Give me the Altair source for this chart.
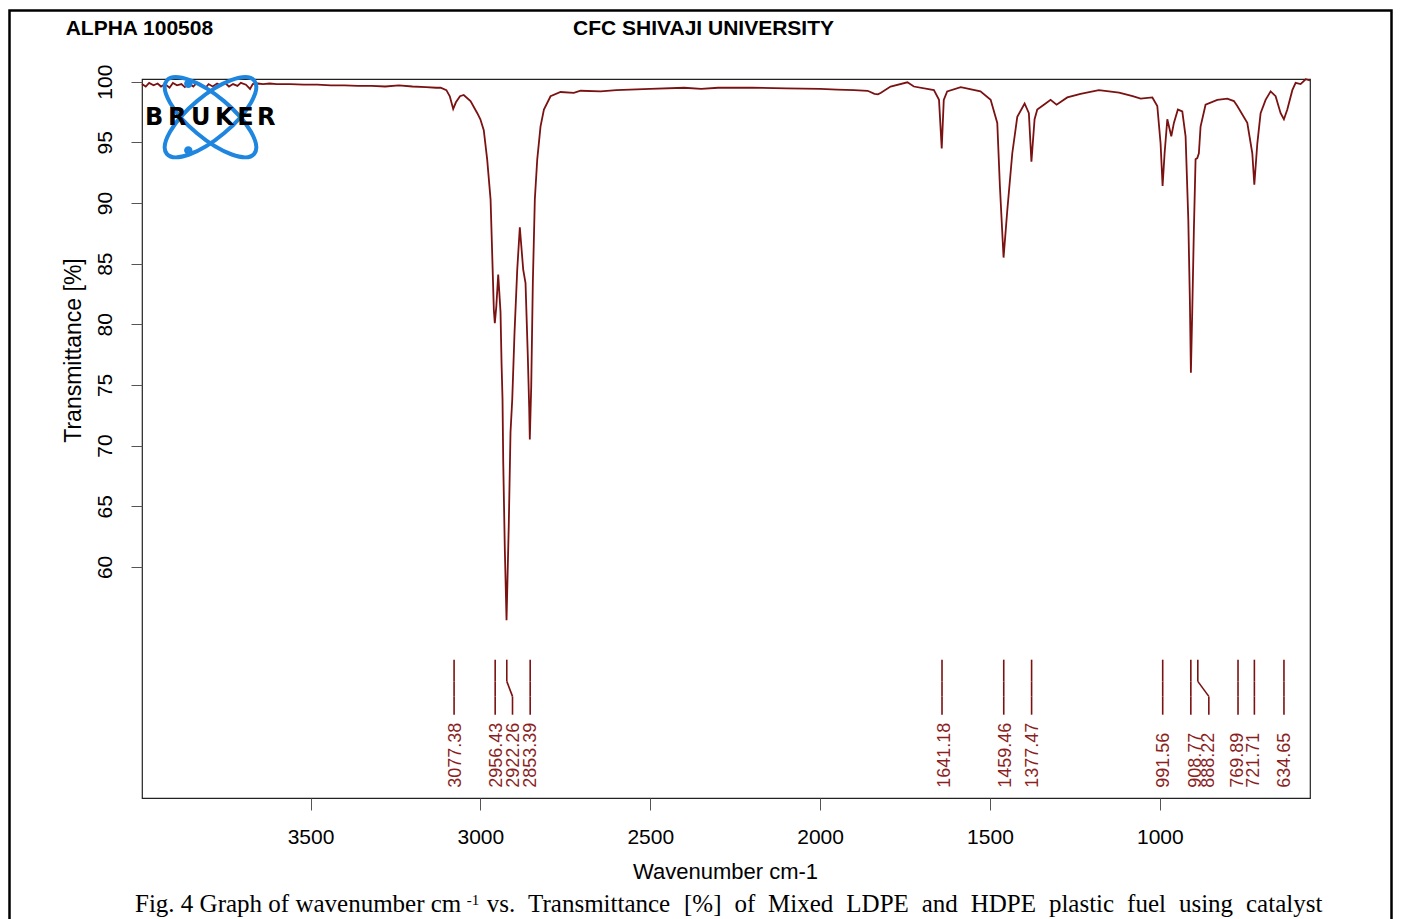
import altair as alt
import pandas as pd

# ---------------- data ----------------
wavenumber = [
    3996, 3985, 3975, 3962, 3950, 3940, 3928, 3915, 3905, 3893, 3880, 3870, 3858, 3845,
    3835, 3822, 3810, 3800, 3788, 3775, 3765, 3752, 3740, 3728, 3715, 3705, 3690, 3678,
    3670, 3655, 3640, 3620, 3600, 3560, 3520, 3480, 3440, 3400, 3360, 3320, 3280, 3240,
    3200, 3160, 3130, 3117, 3100, 3090, 3080, 3072, 3060, 3049, 3029, 3009, 3000, 2990,
    2980, 2970, 2965, 2960.4, 2957.5, 2953, 2947.5, 2940.7, 2937.7, 2934.8, 2932.7, 2928,
    2923, 2916.3, 2911.3, 2906.2, 2899.5, 2891.5, 2883.9, 2873.9, 2867.1, 2860.3, 2856.2,
    2854.5, 2850.3, 2845.6, 2839.7, 2832.6, 2823, 2813, 2793.5, 2764, 2725, 2705, 2646,
    2600, 2500, 2400, 2350, 2300, 2200, 2100, 2000, 1950, 1900, 1860, 1840, 1830, 1822,
    1792.6, 1743, 1724, 1665, 1650, 1642, 1636, 1626, 1586, 1528, 1498, 1478.5, 1470.8,
    1460, 1449, 1434.3, 1419.6, 1398, 1385.5, 1378, 1368.7, 1360.8, 1336.3, 1321.6,
    1303.9, 1272.4, 1233.3, 1179.4, 1120, 1080, 1056.6, 1022, 1007.5, 997.8, 991.9, 986,
    978, 966.3, 958.6, 946.9, 933.9, 924.2, 916.2, 911.5, 908.6, 904.5, 899.8, 894.8,
    889.8, 885.1, 880.1, 865.4, 830.9, 801.5, 782, 772, 742.6, 727.8, 721.9, 713.1, 703.4,
    688.7, 673.9, 659.2, 644.5, 634.8, 624.8, 610, 600.3, 585.6, 570.9, 558,
]
transmittance = [
    99.8, 99.6, 99.9, 99.7, 99.85, 99.6, 99.8, 99.5, 99.9, 99.7, 99.8, 99.55, 99.85, 99.6,
    99.9, 99.7, 99.45, 99.8, 99.6, 99.85, 99.7, 99.9, 99.6, 99.8, 99.65, 99.9, 99.75, 99.4,
    99.8, 99.85, 99.8, 99.85, 99.8, 99.8, 99.75, 99.75, 99.7, 99.7, 99.65, 99.65, 99.6, 99.7,
    99.6, 99.55, 99.5, 99.5, 99.3, 98.8, 97.75, 98.3, 98.8, 98.9, 98.4, 97.4, 96.9, 96.0,
    93.6, 90.3, 85.6, 81.2, 80.1, 81.5, 84.1, 81.0, 76.8, 73.8, 68.6, 61.4,
    55.6, 63.6, 71.1, 73.8, 79.3, 84.5, 88.0, 84.5, 83.4, 77.3, 73.0,
    70.5, 74.9, 83.4, 90.3, 93.6, 96.3, 97.7, 98.8, 99.15, 99.07, 99.25, 99.2,
    99.3, 99.4, 99.5, 99.4, 99.5, 99.5, 99.45, 99.4, 99.35, 99.3, 99.25, 99.0, 98.95, 99.07,
    99.6, 99.95, 99.6, 99.3, 98.5, 94.5, 98.5, 99.2, 99.55, 99.2, 98.5, 96.6, 91.4,
    85.5, 89.4, 94.1, 97.1, 98.2, 97.4, 93.4, 96.9, 97.7, 98.2, 98.5,
    98.1, 98.7, 99.0, 99.3, 99.1, 98.8, 98.6, 98.7, 98.0, 94.9, 91.4, 94.1,
    96.9, 95.5, 96.6, 97.7, 97.55, 95.5, 88.6, 81.8, 76.0, 81.2, 87.8, 93.6,
    93.7, 94.1, 96.3, 98.1, 98.5, 98.6, 98.4, 98.0, 96.6, 94.1, 91.5, 94.9, 97.4,
    98.5, 99.2, 98.8, 97.4, 96.9, 97.7, 99.3, 99.9, 99.8, 100.2, 100.1,
]

peak_wn = [3077.38, 2956.43, 2922.26, 2853.39, 1641.18, 1459.46, 1377.47,
           991.56, 908.77, 888.22, 769.89, 721.71, 634.65]
# where each marker line ends (bent lines for crowded peaks)
peak_line_end = [3077.38, 2956.43, 2905.4, 2853.39, 1641.18, 1459.46, 1377.47,
                 991.56, 908.77, 855.8, 769.89, 721.71, 634.65]
# where each vertical label sits
peak_text_pos = [3073, 2950.4, 2901.5, 2852.4, 1633.6, 1454.1, 1372.5,
                 987.7, 894.8, 855.6, 770.2, 723.1, 632.8]
peak_labels = [f"{p:.2f}" for p in peak_wn]

x_ticks = [3500, 3000, 2500, 2000, 1500, 1000]
y_ticks = [60, 65, 70, 75, 80, 85, 90, 95, 100]

caption_words = ["vs.", "Transmittance", "[%]", "of", "Mixed", "LDPE", "and",
                 "HDPE", "plastic", "fuel", "using", "catalyst"]
caption_word_x = [344.7, 386.1, 542.0, 592.4, 626.1, 704.3, 779.7,
                  828.7, 906.9, 985.1, 1036.9, 1104.0]

# ---------------- styling ----------------
LINE = "#7a1212"
LABEL = "#8b1f1f"
SANS = "Liberation Sans"
SERIF = "Liberation Serif"
W, H = 1168, 719
PAD_L, PAD_T, PAD_R, PAD_B = 134, 71, 83, 121

x_scale = alt.Scale(domain=[3996, 558], nice=False, zero=False)
y_scale = alt.Scale(domain=[40.95, 100.22], nice=False, zero=False)

x_axis = alt.Axis(values=x_ticks, format="d", grid=False, domain=False,
                  tickSize=12, tickColor="#555555", tickWidth=1,
                  labelFont=SANS, labelFontSize=21, labelColor="black",
                  labelPadding=16, labelFlush=False, labelOverlap=False,
                  titleFont=SANS, titleFontSize=22, titleFontWeight="normal",
                  titleColor="black", titleX=583, titleY=73,
                  titleAlign="center", titleBaseline="middle")
y_axis = alt.Axis(values=y_ticks, format="d", grid=False, domain=False,
                  tickSize=11, tickColor="#555555", tickWidth=1,
                  labelFont=SANS, labelFontSize=21, labelColor="black",
                  labelAngle=270, labelAlign="center", labelBaseline="bottom",
                  labelPadding=16, labelFlush=False, labelOverlap=False,
                  titleFont=SANS, titleFontSize=23, titleFontWeight="normal",
                  titleColor="black", titleAngle=270, titleX=-69, titleY=271,
                  titleAlign="center", titleBaseline="middle")

X_TITLE = "Wavenumber cm-1"
Y_TITLE = "Transmittance [%]"


def xenc(field):
    return alt.X(f"{field}:Q", scale=x_scale, axis=x_axis, title=X_TITLE)


spec = pd.DataFrame({"wn": wavenumber, "T": transmittance,
                     "i": list(range(len(wavenumber)))})
peaks = pd.DataFrame({"top": peak_wn, "end": peak_line_end,
                      "pos": peak_text_pos, "label": peak_labels})
words = pd.DataFrame({"w": caption_words, "px": caption_word_x})
one = pd.DataFrame({"k": [0]})

spectrum = alt.Chart(spec).mark_line(color=LINE, strokeWidth=1.8).encode(
    x=xenc("wn"),
    y=alt.Y("T:Q", scale=y_scale, axis=y_axis, title=Y_TITLE),
    order="i:Q",
)

# peak marker lines: straight top, optional bend, straight bottom
Y_TOP, Y_B1, Y_B2, Y_BOT = 580.7, 602.4, 617.4, 635.7
seg1 = alt.Chart(peaks).mark_rule(color=LINE, strokeWidth=1.6).encode(
    x=xenc("top"), x2="top:Q", y=alt.value(Y_TOP), y2=alt.value(Y_B1))
seg2 = alt.Chart(peaks).mark_rule(color=LINE, strokeWidth=1.6).encode(
    x=xenc("top"), x2="end:Q", y=alt.value(Y_B1), y2=alt.value(Y_B2))
seg3 = alt.Chart(peaks).mark_rule(color=LINE, strokeWidth=1.6).encode(
    x=xenc("end"), x2="end:Q", y=alt.value(Y_B2), y2=alt.value(Y_BOT))
peak_text = alt.Chart(peaks).mark_text(
    angle=270, align="left", baseline="middle", font=SANS, fontSize=18,
    color=LABEL).encode(x=xenc("pos"), y=alt.value(708.7), text="label:N")

# header texts
hdr_left = alt.Chart(one).mark_text(
    text="ALPHA 100508", font=SANS, fontSize=21, fontWeight="bold",
    align="left", baseline="alphabetic", color="black").encode(
    x=alt.value(-76.3), y=alt.value(-43.6))
hdr_mid = alt.Chart(one).mark_text(
    text="CFC SHIVAJI UNIVERSITY", font=SANS, fontSize=21, fontWeight="bold",
    align="center", baseline="alphabetic", color="black").encode(
    x=alt.value(561.5), y=alt.value(-43.6))

# Bruker logo (decoration)
ELL_A = "M 0.728 0.611 A 0.95 0.35 40 1 0 -0.728 -0.611 A 0.95 0.35 40 1 0 0.728 0.611 Z"
ELL_B = "M 0.728 -0.611 A 0.95 0.35 -40 1 0 -0.728 0.611 A 0.95 0.35 -40 1 0 0.728 -0.611 Z"
logo_blue = "#1f86e0"
ell1 = alt.Chart(one).mark_point(shape=ELL_A, size=14400, filled=False,
                                 stroke=logo_blue, strokeWidth=4, opacity=1).encode(
    x=alt.value(68.5), y=alt.value(38.2))
ell2 = alt.Chart(one).mark_point(shape=ELL_B, size=14400, filled=False,
                                 stroke=logo_blue, strokeWidth=4, opacity=1).encode(
    x=alt.value(68.5), y=alt.value(38.2))
dot1 = alt.Chart(one).mark_point(shape="circle", size=70, filled=True,
                                 color=logo_blue, opacity=1).encode(
    x=alt.value(46.3), y=alt.value(4.7))
dot2 = alt.Chart(one).mark_point(shape="circle", size=70, filled=True,
                                 color=logo_blue, opacity=1).encode(
    x=alt.value(46.3), y=alt.value(71.4))
logo_letters = ["B", "R", "U", "K", "E", "R"]
logo_x = [12.2, 35.2, 58.8, 82.2, 103.5, 124.3]
logo_text = [alt.Chart(one).mark_text(
    text=ch, font="DejaVu Sans", fontSize=24, fontWeight="bold",
    align="center", baseline="alphabetic", color="black").encode(
    x=alt.value(px), y=alt.value(46)) for ch, px in zip(logo_letters, logo_x)]

# outer frame of the figure
frame = alt.Chart(one).mark_rect(fillOpacity=0, stroke="black", strokeWidth=2.5).encode(
    x=alt.value(-132.5), x2=alt.value(1249.5), y=alt.value(-68.6), y2=alt.value(900))

# caption
cap1 = alt.Chart(one).mark_text(
    text="Fig. 4 Graph of wavenumber cm", font=SERIF, fontSize=25,
    align="left", baseline="alphabetic", color="black").encode(
    x=alt.value(-7), y=alt.value(833))
cap_sup = alt.Chart(one).mark_text(
    text="-1", font=SERIF, fontSize=15,
    align="left", baseline="alphabetic", color="black").encode(
    x=alt.value(324.7), y=alt.value(825.5))
cap2 = alt.Chart(words).mark_text(
    font=SERIF, fontSize=25, align="left", baseline="alphabetic",
    color="black").encode(
    x=alt.X("px:Q", scale=None), y=alt.value(833), text="w:N")

chart = alt.layer(
    frame, spectrum, seg1, seg2, seg3, peak_text, hdr_left, hdr_mid,
    ell1, ell2, dot1, dot2, *logo_text, cap1, cap_sup, cap2,
).properties(
    width=W, height=H,
    padding={"left": PAD_L, "top": PAD_T, "right": PAD_R, "bottom": PAD_B},
    autosize=alt.AutoSizeParams(type="none"),
    background="white",
).configure_view(stroke="#222222", strokeWidth=1.2)

chart.save("out.html", embed_options={"renderer": "svg", "actions": False})
